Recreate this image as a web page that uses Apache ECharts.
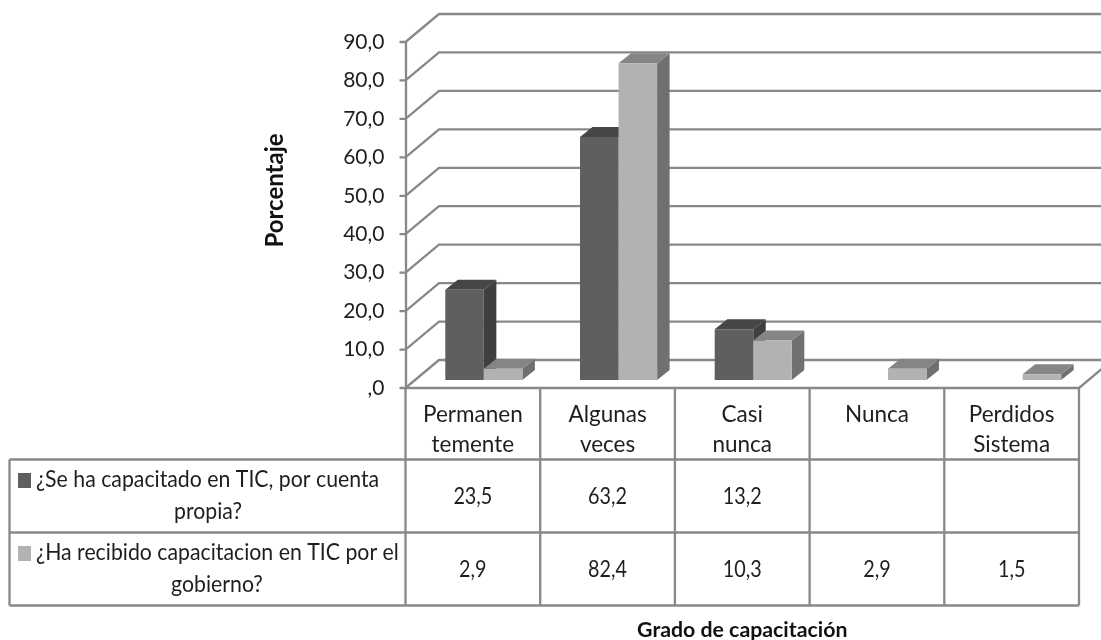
<!DOCTYPE html>
<html><head><meta charset="utf-8">
<style>html,body{margin:0;padding:0;background:#fff}#c{width:1101px;height:640px;filter:blur(0.45px)}</style>
<script src="https://cdn.jsdelivr.net/npm/echarts@6/dist/echarts.min.js"></script>
</head><body><div id="c"></div>
<script>
const categories = ['Permanen\ntemente', 'Algunas\nveces', 'Casi\nnunca', 'Nunca', 'Perdidos\nSistema'];
const propia = [23.5, 63.2, 13.2, null, null];
const gobierno = [2.9, 82.4, 10.3, 2.9, 1.5];
const propiaLines = ['¿Se ha capacitado en TIC, por cuenta', 'propia?'];
const gobiernoLines = ['¿Ha recibido capacitacion en TIC por el', 'gobierno?'];
const yTicks = [0, 10, 20, 30, 40, 50, 60, 70, 80, 90];
const xTitle = 'Grado de capacitación';
const yTitle = 'Porcentaje';

const FONT = 'Lato';
const LINE = '#888888', TEXT = '#1e1e1e';
const LW = 2.3;
const WALL = [33.5, -28], NEAR = [11, -8], DEPTH = [12.5, -10];
const PAL = [
  {front: '#5f5f5f', top: '#464646', side: '#3f3f3f'},
  {front: '#b2b2b2', top: '#858585', side: '#707070'}
];
const fmt = v => v === 0 ? ',0' : v.toFixed(1).replace('.', ',');
const cell = v => v == null ? '' : v.toFixed(1).replace('.', ',');

function wallItem(params, api) {
  const v = api.value(0);
  const p = api.coord([0, v]);
  const x0 = api.coord([0, 0])[0] - api.size([1, 0])[0] / 2;
  const o = {stroke: LINE, lineWidth: LW, fill: null};
  return {type: 'group', silent: true, children: [
    {type: 'polyline', shape: {points: [[x0 - 6, p[1]], [x0, p[1]], [x0 + WALL[0], p[1] + WALL[1]], [1101, p[1] + WALL[1]]]}, style: o}
  ]};
}

function barItem(seriesIdx) {
  return function (params, api) {
    const i = api.value(0), v = api.value(1);
    const base = api.coord([i, 0]), top = api.coord([i, v]);
    const w = api.size([1, 0])[0] * 0.2862;
    const x0 = base[0] - w + seriesIdx * w + NEAR[0];
    const x1 = x0 + w;
    const yb = base[1] + NEAR[1], yt = top[1] + NEAR[1];
    const c = PAL[seriesIdx];
    const dx = DEPTH[0], dy = DEPTH[1];
    return {type: 'group', children: [
      {type: 'polygon', shape: {points: [[x1, yb], [x1 + dx, yb + dy], [x1 + dx, yt + dy], [x1, yt]]}, style: {fill: c.side}},
      {type: 'polygon', shape: {points: [[x0, yt], [x1, yt], [x1 + dx, yt + dy], [x0 + dx, yt + dy]]}, style: {fill: c.top}},
      {type: 'rect', shape: {x: x0, y: yt, width: w, height: yb - yt}, style: {fill: c.front}}
    ]};
  };
}

const HEAD_B = 459.5, ROW1_B = 532.5, ROW2_B = 605.5, LEFT = 9.5;
function tableItem(params, api) {
  const o = api.coord([0, 0]);
  const step = api.size([1, 0])[0];
  const gl = o[0] - step / 2, y0 = o[1];
  const gr = gl + step * categories.length;
  const ln = (a, b, c, d) => ({type: 'line', shape: {x1: a, y1: b, x2: c, y2: d}, style: {stroke: LINE, lineWidth: LW}});
  const tx = (s, x, y, align, size, sx) => ({type: 'text', x, y, scaleX: sx, scaleY: 1,
    style: {text: s, x: 0, y: 0, align: align || 'center', verticalAlign: 'middle', font: size + 'px ' + FONT, fill: TEXT}});
  const kids = [
    ln(gl, y0, gr, y0), ln(gr, y0, gr + 33.5, y0 - 28),
    ln(LEFT, HEAD_B, gr, HEAD_B), ln(LEFT, ROW1_B, gr, ROW1_B), ln(LEFT, ROW2_B, gr, ROW2_B),
    ln(LEFT, HEAD_B, LEFT, ROW2_B)
  ];
  for (let i = 0; i <= categories.length; i++) kids.push(ln(gl + step * i, y0, gl + step * i, ROW2_B));
  kids.push({type: 'rect', shape: {x: 18, y: 473, width: 13, height: 15}, style: {fill: PAL[0].front}});
  kids.push({type: 'rect', shape: {x: 18, y: 546, width: 13, height: 15}, style: {fill: PAL[1].front}});
  kids.push(tx(propiaLines[0], 36, 480, 'left', 23, 0.925), tx(propiaLines[1], 208, 512, 'center', 23, 0.925));
  kids.push(tx(gobiernoLines[0], 36, 553, 'left', 23, 0.925), tx(gobiernoLines[1], 217, 585, 'center', 23, 0.925));
  categories.forEach((c, i) => {
    const cx = gl + step * (i + 0.5);
    kids.push(tx(cell(propia[i]), cx, 497, 'center', 22.5, 0.88));
    kids.push(tx(cell(gobierno[i]), cx, 570, 'center', 22.5, 0.88));
  });
  return {type: 'group', silent: true, children: kids};
}

const toData = arr => arr.map((v, i) => [i, v]).filter(d => d[1] != null);

const chart = echarts.init(document.getElementById('c'), null, {renderer: 'canvas'});
chart.setOption({
  animation: false,
  backgroundColor: '#fff',
  grid: {left: 405.5, top: 42, width: 673.5, height: 346, containLabel: false, outerBoundsMode: 'none'},
  xAxis: {
    type: 'category', data: categories,
    axisLine: {show: false}, axisTick: {show: false}, splitLine: {show: false},
    axisLabel: {interval: 0, color: TEXT, fontFamily: FONT, fontSize: 22.5, lineHeight: 30, margin: 12},
    name: xTitle, nameLocation: 'middle', nameGap: 232,
    nameTextStyle: {fontFamily: FONT, fontWeight: 'bold', fontSize: 21.3, color: '#111'}
  },
  yAxis: {
    type: 'value', min: 0, max: 90, interval: 10,
    axisLine: {show: true, lineStyle: {color: LINE, width: LW}},
    axisTick: {show: false}, splitLine: {show: false},
    axisLabel: {formatter: fmt, color: TEXT, fontFamily: FONT, fontSize: 21, margin: 21, padding: [5, 0, 0, 0]},
    name: yTitle, nameLocation: 'middle', nameGap: 118, nameRotate: 90,
    nameTextStyle: {fontFamily: FONT, fontWeight: 'bold', fontSize: 24, color: '#111', padding: [0, 0, 0, 49]}
  },
  series: [
    {type: 'custom', name: 'pared', coordinateSystem: 'cartesian2d', clip: false, silent: true, z: 1,
     encode: {y: 0}, data: yTicks.map(v => [v]), renderItem: wallItem},
    {type: 'custom', name: '¿Se ha capacitado en TIC, por cuenta propia?', coordinateSystem: 'cartesian2d', clip: false, z: 2,
     encode: {x: 0, y: 1}, data: toData(propia), renderItem: barItem(0)},
    {type: 'custom', name: '¿Ha recibido capacitacion en TIC por el gobierno?', coordinateSystem: 'cartesian2d', clip: false, z: 3,
     encode: {x: 0, y: 1}, data: toData(gobierno), renderItem: barItem(1)},
    {type: 'custom', name: 'tabla', coordinateSystem: 'cartesian2d', clip: false, silent: true, z: 4,
     data: [[0, 0]], encode: {x: 0, y: 1}, renderItem: tableItem}
  ]
});
</script></body></html>
